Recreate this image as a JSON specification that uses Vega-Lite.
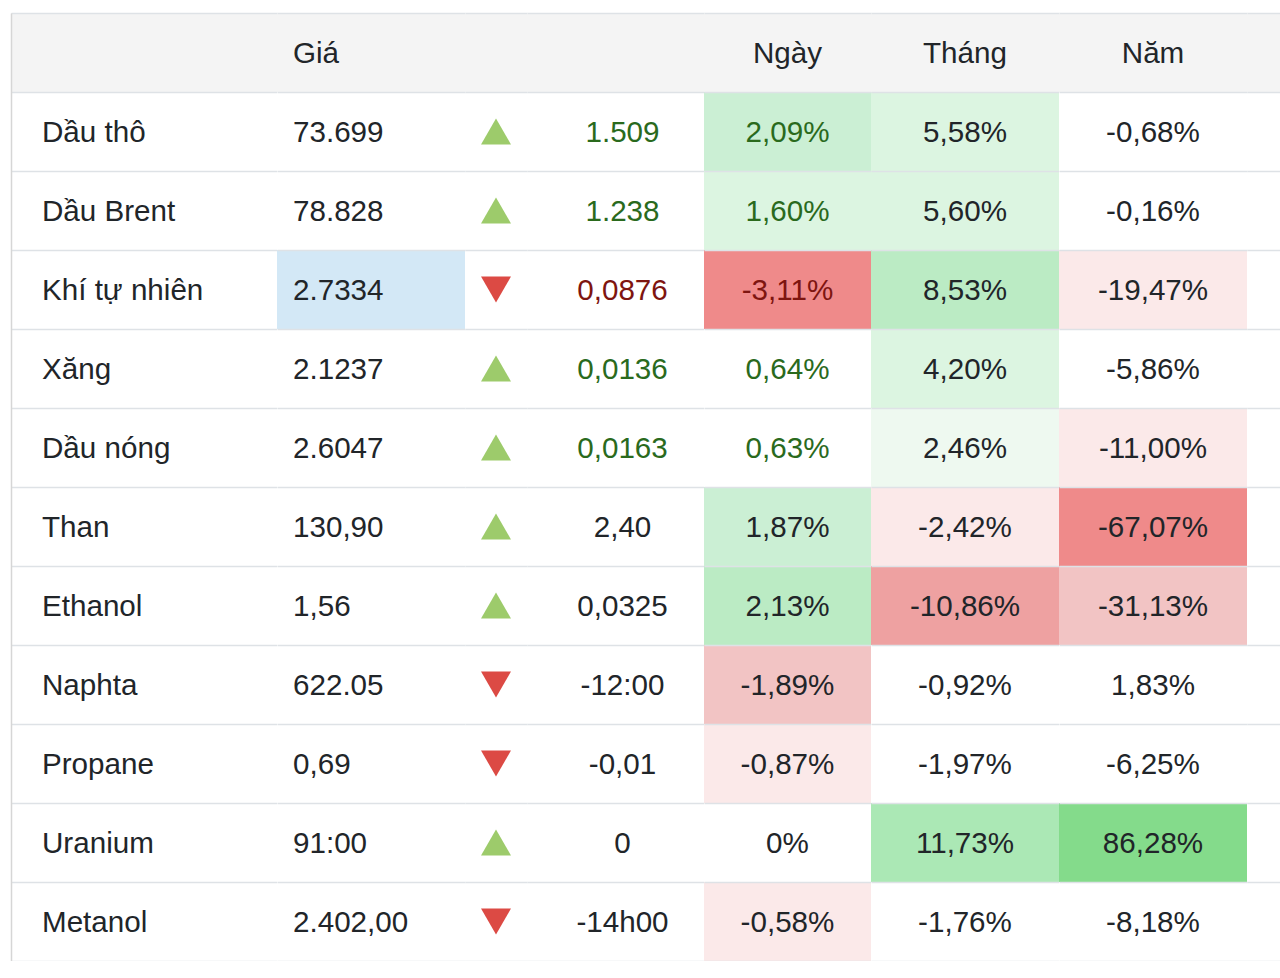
{
  "$schema": "https://vega.github.io/schema/vega-lite/v6.json",
  "padding": {"left": 11, "top": 13, "right": 0, "bottom": 0},
  "background": "white",
  "spacing": 0,
  "config": {
    "view": {"stroke": null},
    "font": "Liberation Sans",
    "text": {"font": "Liberation Sans", "fontSize": 29.6, "baseline": "middle", "dy": 1.5, "color": "#212529"},
    "concat": {"spacing": 0}
  },
  "datasets": {
    "head": [{"r": "H", "p": "Giá", "d": "Ngày", "m": "Tháng", "yr": "Năm"}],
    "rows": [
      {"r": "Dầu thô", "p": "73.699", "gl": "n", "dir": "up", "c": "1.509", "tc": "g", "d": "2,09%", "dl": "g3", "m": "5,58%", "ml": "g2", "yr": "-0,68%", "yl": "n"},
      {"r": "Dầu Brent", "p": "78.828", "gl": "n", "dir": "up", "c": "1.238", "tc": "g", "d": "1,60%", "dl": "g2", "m": "5,60%", "ml": "g2", "yr": "-0,16%", "yl": "n"},
      {"r": "Khí tự nhiên", "p": "2.7334", "gl": "b", "dir": "down", "c": "0,0876", "tc": "r", "d": "-3,11%", "dl": "r4", "m": "8,53%", "ml": "g4", "yr": "-19,47%", "yl": "r1"},
      {"r": "Xăng", "p": "2.1237", "gl": "n", "dir": "up", "c": "0,0136", "tc": "g", "d": "0,64%", "dl": "n", "m": "4,20%", "ml": "g2", "yr": "-5,86%", "yl": "n"},
      {"r": "Dầu nóng", "p": "2.6047", "gl": "n", "dir": "up", "c": "0,0163", "tc": "g", "d": "0,63%", "dl": "n", "m": "2,46%", "ml": "g1", "yr": "-11,00%", "yl": "r1"},
      {"r": "Than", "p": "130,90", "gl": "n", "dir": "up", "c": "2,40", "tc": "n", "d": "1,87%", "dl": "g3", "m": "-2,42%", "ml": "r1", "yr": "-67,07%", "yl": "r4"},
      {"r": "Ethanol", "p": "1,56", "gl": "n", "dir": "up", "c": "0,0325", "tc": "n", "d": "2,13%", "dl": "g4", "m": "-10,86%", "ml": "r3", "yr": "-31,13%", "yl": "r2"},
      {"r": "Naphta", "p": "622.05", "gl": "n", "dir": "down", "c": "-12:00", "tc": "n", "d": "-1,89%", "dl": "r2", "m": "-0,92%", "ml": "n", "yr": "1,83%", "yl": "n"},
      {"r": "Propane", "p": "0,69", "gl": "n", "dir": "down", "c": "-0,01", "tc": "n", "d": "-0,87%", "dl": "r1", "m": "-1,97%", "ml": "n", "yr": "-6,25%", "yl": "n"},
      {"r": "Uranium", "p": "91:00", "gl": "n", "dir": "up", "c": "0", "tc": "n", "d": "0%", "dl": "n", "m": "11,73%", "ml": "g5", "yr": "86,28%", "yl": "g6"},
      {"r": "Metanol", "p": "2.402,00", "gl": "n", "dir": "down", "c": "-14h00", "tc": "n", "d": "-0,58%", "dl": "r1", "m": "-1,76%", "ml": "n", "yr": "-8,18%", "yl": "n"}
    ]
  },
  "hconcat": [
    {
      "width": 266, "height": 948,
      "encoding": {"y": {"field": "r", "type": "nominal", "scale": {"domain": ["H", "Dầu thô", "Dầu Brent", "Khí tự nhiên", "Xăng", "Dầu nóng", "Than", "Ethanol", "Naphta", "Propane", "Uranium", "Metanol"], "paddingInner": 0, "paddingOuter": 0}, "axis": {"title": null, "labels": false, "ticks": false, "domain": true, "domainColor": "#d6d6d6", "domainWidth": 1.5, "grid": true, "tickBand": "extent", "gridColor": "#dee2e6", "gridWidth": 1.5, "zindex": 1}}},
      "layer": [
        {"data": {"name": "head"}, "mark": {"type": "rect", "fill": "#f4f4f4"}, "encoding": {}},
        {"data": {"name": "rows"}, "mark": {"type": "text", "align": "left", "dx": 31}, "encoding": {"x": {"value": 0}, "text": {"field": "r"}}}
      ]
    },
    {
      "width": 188, "height": 948,
      "encoding": {"y": {"field": "r", "type": "nominal", "scale": {"domain": ["H", "Dầu thô", "Dầu Brent", "Khí tự nhiên", "Xăng", "Dầu nóng", "Than", "Ethanol", "Naphta", "Propane", "Uranium", "Metanol"], "paddingInner": 0, "paddingOuter": 0}, "axis": {"title": null, "labels": false, "ticks": false, "domain": false, "grid": true, "tickBand": "extent", "gridColor": "#dee2e6", "gridWidth": 1.5, "zindex": 1}}},
      "layer": [
        {"data": {"name": "head"}, "mark": {"type": "rect", "fill": "#f4f4f4"}, "encoding": {}},
        {"data": {"name": "head"}, "mark": {"type": "text", "align": "left", "dx": 16}, "encoding": {"x": {"value": 0}, "text": {"field": "p"}}},
        {"data": {"name": "rows"}, "mark": {"type": "rect"}, "encoding": {"fill": {"field": "gl", "type": "nominal", "legend": null, "scale": {"domain": ["n", "b", "g1", "g2", "g3", "g4", "g5", "g6", "r1", "r2", "r3", "r4"], "range": ["#ffffff", "#d3e8f6", "#eef9f0", "#dcf5e1", "#cbefd4", "#bbebc4", "#abe8b5", "#84db8b", "#fbe9e9", "#f2c4c4", "#eea1a1", "#ef8a8a"]}}}},
        {"data": {"name": "rows"}, "mark": {"type": "text", "align": "left", "dx": 16}, "encoding": {"x": {"value": 0}, "text": {"field": "p"}}}
      ]
    },
    {
      "width": 62, "height": 948,
      "encoding": {"y": {"field": "r", "type": "nominal", "scale": {"domain": ["H", "Dầu thô", "Dầu Brent", "Khí tự nhiên", "Xăng", "Dầu nóng", "Than", "Ethanol", "Naphta", "Propane", "Uranium", "Metanol"], "paddingInner": 0, "paddingOuter": 0}, "axis": {"title": null, "labels": false, "ticks": false, "domain": false, "grid": true, "tickBand": "extent", "gridColor": "#dee2e6", "gridWidth": 1.5, "zindex": 1}}},
      "layer": [
        {"data": {"name": "head"}, "mark": {"type": "rect", "fill": "#f4f4f4"}, "encoding": {}},
        {"data": {"name": "rows"}, "mark": {"type": "point", "filled": true, "size": 900, "opacity": 1, "strokeWidth": 0},
         "encoding": {
           "shape": {"field": "dir", "type": "nominal", "legend": null, "scale": {"domain": ["up", "down"], "range": ["triangle-up", "triangle-down"]}},
           "color": {"field": "dir", "type": "nominal", "legend": null, "scale": {"domain": ["up", "down"], "range": ["#9dcb6b", "#dc4a44"]}}
         }}
      ]
    },
    {
      "width": 177, "height": 948,
      "encoding": {"y": {"field": "r", "type": "nominal", "scale": {"domain": ["H", "Dầu thô", "Dầu Brent", "Khí tự nhiên", "Xăng", "Dầu nóng", "Than", "Ethanol", "Naphta", "Propane", "Uranium", "Metanol"], "paddingInner": 0, "paddingOuter": 0}, "axis": {"title": null, "labels": false, "ticks": false, "domain": false, "grid": true, "tickBand": "extent", "gridColor": "#dee2e6", "gridWidth": 1.5, "zindex": 1}}},
      "layer": [
        {"data": {"name": "head"}, "mark": {"type": "rect", "fill": "#f4f4f4"}, "encoding": {}},
        {"data": {"name": "rows"}, "mark": {"type": "text", "align": "center", "dx": 7},
         "encoding": {"text": {"field": "c"}, "color": {"condition": [{"test": "datum.tc === 'g'", "value": "#2a6a1d"}, {"test": "datum.tc === 'r'", "value": "#7e1510"}], "value": "#212529"}}}
      ]
    },
    {
      "width": 167, "height": 948,
      "encoding": {"y": {"field": "r", "type": "nominal", "scale": {"domain": ["H", "Dầu thô", "Dầu Brent", "Khí tự nhiên", "Xăng", "Dầu nóng", "Than", "Ethanol", "Naphta", "Propane", "Uranium", "Metanol"], "paddingInner": 0, "paddingOuter": 0}, "axis": {"title": null, "labels": false, "ticks": false, "domain": false, "grid": true, "tickBand": "extent", "gridColor": "#dee2e6", "gridWidth": 1.5, "zindex": 1}}},
      "layer": [
        {"data": {"name": "head"}, "mark": {"type": "rect", "fill": "#f4f4f4"}, "encoding": {}},
        {"data": {"name": "head"}, "mark": {"type": "text", "align": "center"}, "encoding": {"text": {"field": "d"}}},
        {"data": {"name": "rows"}, "mark": {"type": "rect"}, "encoding": {"fill": {"field": "dl", "type": "nominal", "legend": null, "scale": {"domain": ["n", "b", "g1", "g2", "g3", "g4", "g5", "g6", "r1", "r2", "r3", "r4"], "range": ["#ffffff", "#d3e8f6", "#eef9f0", "#dcf5e1", "#cbefd4", "#bbebc4", "#abe8b5", "#84db8b", "#fbe9e9", "#f2c4c4", "#eea1a1", "#ef8a8a"]}}}},
        {"data": {"name": "rows"}, "mark": {"type": "text", "align": "center"},
         "encoding": {"text": {"field": "d"}, "color": {"condition": [{"test": "datum.tc === 'g'", "value": "#2a6a1d"}, {"test": "datum.tc === 'r'", "value": "#7e1510"}], "value": "#212529"}}}
      ]
    },
    {
      "width": 188, "height": 948,
      "encoding": {"y": {"field": "r", "type": "nominal", "scale": {"domain": ["H", "Dầu thô", "Dầu Brent", "Khí tự nhiên", "Xăng", "Dầu nóng", "Than", "Ethanol", "Naphta", "Propane", "Uranium", "Metanol"], "paddingInner": 0, "paddingOuter": 0}, "axis": {"title": null, "labels": false, "ticks": false, "domain": false, "grid": true, "tickBand": "extent", "gridColor": "#dee2e6", "gridWidth": 1.5, "zindex": 1}}},
      "layer": [
        {"data": {"name": "head"}, "mark": {"type": "rect", "fill": "#f4f4f4"}, "encoding": {}},
        {"data": {"name": "head"}, "mark": {"type": "text", "align": "center"}, "encoding": {"text": {"field": "m"}}},
        {"data": {"name": "rows"}, "mark": {"type": "rect"}, "encoding": {"fill": {"field": "ml", "type": "nominal", "legend": null, "scale": {"domain": ["n", "b", "g1", "g2", "g3", "g4", "g5", "g6", "r1", "r2", "r3", "r4"], "range": ["#ffffff", "#d3e8f6", "#eef9f0", "#dcf5e1", "#cbefd4", "#bbebc4", "#abe8b5", "#84db8b", "#fbe9e9", "#f2c4c4", "#eea1a1", "#ef8a8a"]}}}},
        {"data": {"name": "rows"}, "mark": {"type": "text", "align": "center"}, "encoding": {"text": {"field": "m"}}}
      ]
    },
    {
      "width": 188, "height": 948,
      "encoding": {"y": {"field": "r", "type": "nominal", "scale": {"domain": ["H", "Dầu thô", "Dầu Brent", "Khí tự nhiên", "Xăng", "Dầu nóng", "Than", "Ethanol", "Naphta", "Propane", "Uranium", "Metanol"], "paddingInner": 0, "paddingOuter": 0}, "axis": {"title": null, "labels": false, "ticks": false, "domain": false, "grid": true, "tickBand": "extent", "gridColor": "#dee2e6", "gridWidth": 1.5, "zindex": 1}}},
      "layer": [
        {"data": {"name": "head"}, "mark": {"type": "rect", "fill": "#f4f4f4"}, "encoding": {}},
        {"data": {"name": "head"}, "mark": {"type": "text", "align": "center"}, "encoding": {"text": {"field": "yr"}}},
        {"data": {"name": "rows"}, "mark": {"type": "rect"}, "encoding": {"fill": {"field": "yl", "type": "nominal", "legend": null, "scale": {"domain": ["n", "b", "g1", "g2", "g3", "g4", "g5", "g6", "r1", "r2", "r3", "r4"], "range": ["#ffffff", "#d3e8f6", "#eef9f0", "#dcf5e1", "#cbefd4", "#bbebc4", "#abe8b5", "#84db8b", "#fbe9e9", "#f2c4c4", "#eea1a1", "#ef8a8a"]}}}},
        {"data": {"name": "rows"}, "mark": {"type": "text", "align": "center"}, "encoding": {"text": {"field": "yr"}}}
      ]
    },
    {
      "width": 33, "height": 948,
      "encoding": {"y": {"field": "r", "type": "nominal", "scale": {"domain": ["H", "Dầu thô", "Dầu Brent", "Khí tự nhiên", "Xăng", "Dầu nóng", "Than", "Ethanol", "Naphta", "Propane", "Uranium", "Metanol"], "paddingInner": 0, "paddingOuter": 0}, "axis": {"title": null, "labels": false, "ticks": false, "domain": false, "grid": true, "tickBand": "extent", "gridColor": "#dee2e6", "gridWidth": 1.5, "zindex": 1}}},
      "layer": [
        {"data": {"name": "head"}, "mark": {"type": "rect", "fill": "#f4f4f4"}, "encoding": {}}
      ]
    }
  ]
}
